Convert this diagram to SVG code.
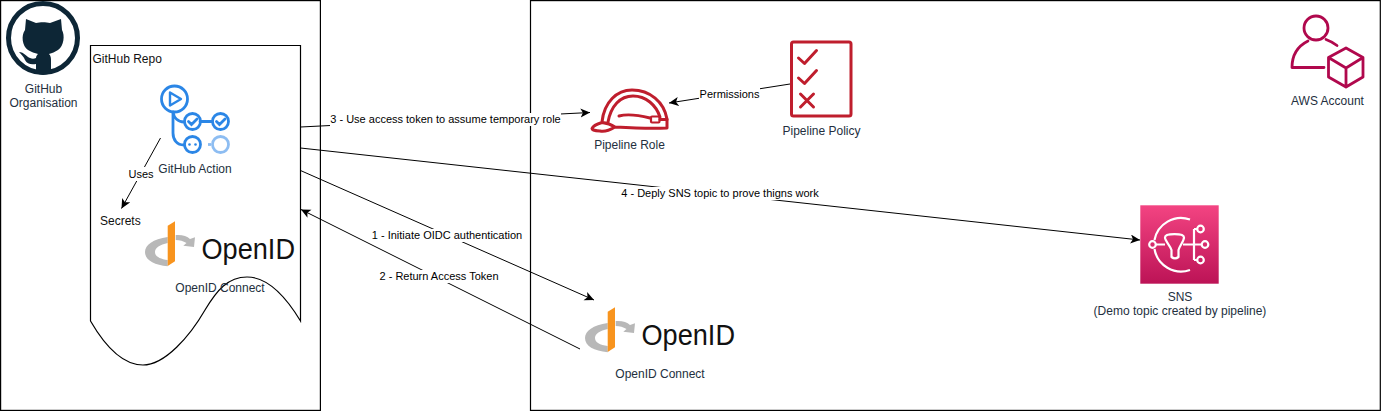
<svg xmlns="http://www.w3.org/2000/svg" width="1381" height="412" viewBox="0 0 1381 412">
<style>
text{font-family:"Liberation Sans",Arial,sans-serif}
.box{fill:#fff;stroke:#000;stroke-width:1.2}
.lbl{font-size:12px;fill:#232f3e;text-anchor:middle}
.blk{font-size:12px;fill:#111}
.edge{font-size:11px;fill:#000;text-anchor:middle}
.oid{font-size:29px;fill:#111}
.conn{fill:none;stroke:#000;stroke-width:1;marker-end:url(#arrow)}
.mask{fill:#fff}
.red{fill:none;stroke:#bf1e2d;stroke-width:3;stroke-linecap:round;stroke-linejoin:round}
.gh{fill:none;stroke:#2b86e6;stroke-width:2.8;stroke-linecap:round}
.acc{fill:none;stroke:#b0084d;stroke-width:2.8;stroke-linecap:round;stroke-linejoin:round}
.sns{fill:none;stroke:#fff;stroke-width:2.2;stroke-linejoin:round}
</style>
<defs>
<marker id="arrow" markerUnits="userSpaceOnUse" markerWidth="12" markerHeight="10" refX="9.5" refY="4.5" orient="auto">
<path d="M0 0L9.5 4.5L0 9L2.4 4.5Z" fill="#000"/>
</marker>
<linearGradient id="snsg" x1="0" y1="0" x2="0" y2="1"><stop offset="0" stop-color="#f34482"/><stop offset="1" stop-color="#bc1356"/></linearGradient>
<g id="oidmark">
<path d="M607.700 323C593 325 585 331 585 338C585 346 594 351 607.700 352.200V346C600 345 595 342.500 595 338C595 334 600 330.500 607.700 329Z" fill="#b8b8b8"/>
<path d="M607.700 311.700L615 307.300V347.300L607.700 352Z" fill="#f8941e"/>
<path d="M615.700 321C622 320.500 627 322 630 325L635 323.300L634 333L623.300 331.700L626.500 329C623 327 620 326.300 615.700 326Z" fill="#b8b8b8"/>
</g>
</defs>

<g id="github-org">
<rect class="box" x="0.600" y="0.600" width="319.800" height="409.800"/>
<circle cx="43" cy="38" r="34.500" fill="#fff" stroke="#0d2636" stroke-width="5"/>
<path d="M26 19L36 23C40 22 46 22 50 23L61 19L62 30C65 35 64 46 58 50C55 52 52 53 49 54C51 56 51 58 51 61V73C46 75 40 75 36 73V64C31 65 27 64 25 60C24 57 21 54 19 52C24 52 27 57 30 58C32 59 34 59 36 58C36 56 37 55 38 54C35 53 31 52 28 50C22 46 21 35 25 30Z" fill="#0d2636"/>
<text class="lbl" x="43.500" y="93">GitHub</text>
<text class="lbl" x="43.500" y="107">Organisation</text>
</g>

<g id="github-repo">
<path d="M90.500 321V45.500H300.500V321C283 292 266 277 247 277C228 277 217 290 205 310C190 336 165 365 143 365C122 365 105 346 90.500 321Z" fill="#fff" stroke="#000" stroke-width="1.200"/>
<text class="blk" x="92.500" y="63">GitHub Repo</text>
</g>

<g id="openid-repo">
<use href="#oidmark" x="-440" y="-86"/>
<text class="oid" x="201.500" y="259" textLength="93.500" lengthAdjust="spacingAndGlyphs">OpenID</text>
<text class="lbl" x="220" y="292">OpenID Connect</text>
</g>

<g id="aws-account">
<rect class="box" x="530.500" y="0.600" width="849.800" height="409.800"/>
<circle class="acc" cx="1316" cy="28" r="12"/>
<path class="acc" d="M1324 67.500H1292C1292 55 1298 46 1308 41M1326 39.500C1330 41 1334 43 1337 45.500"/>
<path class="acc" d="M1346 48L1363 57.500V77L1346 87L1328.500 77V57.500ZM1328.500 57.500L1346 68L1363 57.500M1346 68V87"/>
<text class="lbl" x="1327.500" y="105">AWS Account</text>
</g>

<g id="connectors">
<path class="conn" d="M160.500 138L121.500 208.500"/>
<path class="conn" d="M300.500 127L590 112.500"/>
<path class="conn" d="M300.500 148L1140 240"/>
<path class="conn" d="M300.500 170.500L594 300"/>
<path class="conn" d="M580 349L301 209.500"/>
<path class="conn" d="M790 84L669 103"/>
<rect class="mask" x="127" y="167" width="28" height="14"/>
<text class="edge" x="141" y="178">Uses</text>
<rect class="mask" x="330" y="113" width="231" height="13"/>
<text class="edge" x="445.500" y="123">3 - Use access token to assume temporary role</text>
<rect class="mask" x="621" y="187" width="199" height="13"/>
<text class="edge" x="720" y="197">4 - Deply SNS topic to prove thigns work</text>
<rect class="mask" x="371" y="229" width="152" height="13"/>
<text class="edge" x="447" y="239">1 - Initiate OIDC authentication</text>
<rect class="mask" x="378" y="270" width="122" height="13"/>
<text class="edge" x="439" y="280">2 - Return Access Token</text>
<rect class="mask" x="699" y="88" width="61" height="13"/>
<text class="edge" x="729.500" y="98">Permissions</text>
</g>

<g id="github-action">
<circle class="gh" cx="174.500" cy="99" r="13"/>
<path d="M170 92.500L181 99L170 105.500Z" fill="none" stroke="#2b86e6" stroke-width="2.400" stroke-linejoin="round"/>
<path class="gh" d="M173 112V133C173 140 177 145 184 145M173 112C174 118 178 122 184 122M200 121.500H212"/>
<circle class="gh" cx="192.500" cy="121.500" r="8"/>
<circle class="gh" cx="220.500" cy="121.500" r="8"/>
<circle class="gh" cx="192.500" cy="144.500" r="8"/>
<circle cx="220.500" cy="144.500" r="8" fill="none" stroke="#8dbdf2" stroke-width="2.800"/>
<path d="M208 144.500H211" stroke="#8dbdf2" stroke-width="2.800" fill="none"/>
<path class="gh" d="M188.500 121.500L191.500 124.500L197 119M216.500 121.500L219.500 124.500L225 119" stroke-width="2.200"/>
<circle cx="189.500" cy="144.500" r="1.300" fill="#2b86e6"/>
<circle cx="195.500" cy="144.500" r="1.300" fill="#2b86e6"/>
<text class="lbl" x="195" y="173">GitHub Action</text>
</g>

<g id="secrets">
<text class="blk" x="100" y="225">Secrets</text>
</g>

<g id="pipeline-role">
<path class="red" d="M602 122C604 102 617 90 632 90C650 90 664 102 667 119V128C650 129 632 128 615 127C610 130 604 132 600 131C596 131 592 130 592 128.500C593 126 597 124 602 122.500C607 123 612 125 615 127"/>
<path class="red" d="M608 122C611 106 620 96 633 96C646 96 656 105 660 117M619 116C630 113 642 116 650 118M660 119.500H667" stroke-width="2.400"/>
<rect x="651" y="116.500" width="8.500" height="6" rx="1" fill="none" stroke="#bf1e2d" stroke-width="2.200"/>
<text class="lbl" x="629.500" y="149">Pipeline Role</text>
</g>

<g id="pipeline-policy">
<rect class="red" x="791.500" y="42" width="59.500" height="74" rx="2"/>
<path class="red" d="M798.500 58L804.500 63.500L816.500 50.500M798.500 78L804.500 83.500L816.500 70.500M800.500 94L813.500 107M813.500 94L800.500 107"/>
<text class="lbl" x="821.500" y="135">Pipeline Policy</text>
</g>

<g id="sns">
<rect x="1140.300" y="205.300" width="78.400" height="78.400" fill="url(#snsg)"/>
<path class="sns" d="M1190 219.500A27 27 0 0 0 1154.500 240M1154.500 249A27 27 0 0 0 1190 270"/>
<circle class="sns" cx="1152.500" cy="244.500" r="3.300"/>
<path class="sns" d="M1156 244.500H1165M1183 244.500H1201.500M1194 229V260M1194 229H1197M1194 260H1197"/>
<path class="sns" d="M1165 237.500C1165 233 1184 233 1184 237.500C1184 241 1180 245 1178.500 250V257C1176.500 258.500 1173.500 258.500 1171.500 257V250C1170 245 1165 241 1165 237.500Z"/>
<circle class="sns" cx="1200.500" cy="229" r="3.300"/>
<circle class="sns" cx="1205" cy="244.500" r="3.300"/>
<circle class="sns" cx="1200.500" cy="260" r="3.300"/>
<text class="lbl" x="1180" y="301">SNS</text>
<text class="lbl" x="1180" y="315">(Demo topic created by pipeline)</text>
</g>

<g id="openid-aws">
<use href="#oidmark"/>
<text class="oid" x="641.500" y="345" textLength="93.500" lengthAdjust="spacingAndGlyphs">OpenID</text>
<text class="lbl" x="660" y="378">OpenID Connect</text>
</g>
</svg>
